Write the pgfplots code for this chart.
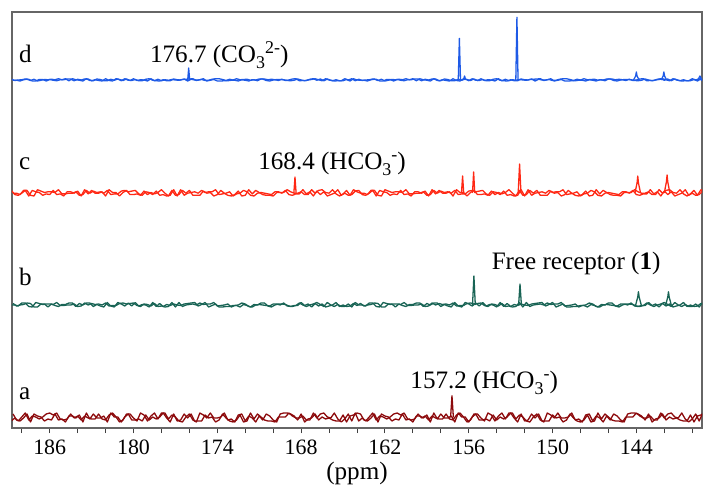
\documentclass[border=0pt]{standalone}
\usepackage{fontspec}
\setmainfont{Liberation Serif}
\usepackage{pgfplots}
\usepackage{pgfplotstable}
\pgfplotsset{compat=1.18}
\definecolor{specA}{RGB}{140,10,12}
\definecolor{specB}{RGB}{25,100,85}
\definecolor{specC}{RGB}{255,40,20}
\definecolor{specD}{RGB}{30,90,230}
\newcommand{\sbs}[1]{\raisebox{-3bp}{\fontsize{9}{10}\selectfont #1}}
\newcommand{\sps}[1]{\raisebox{4.5bp}{\fontsize{9}{10}\selectfont #1}}
\pgfplotstableread{
x a b c d
188.75 7 123 237.6 348.75
188.5 10 123 233.4 347.5
188.25 7 122 232.7 348
188 11 125 234.8 348.25
187.75 15 125 237.6 349
187.5 8 121.5 232 348.75
187.25 12 121 237.6 347
187 11 125.5 236.2 347
186.75 9 124.5 235.5 348.5
186.5 11 123.5 232.7 348.5
186.25 14 124 234.1 347
186 15 124 233.4 348.5
185.75 13 123.5 237.6 347.75
185.5 15 125.5 233.4 347.25
185.25 9 122.5 234.1 348.25
185 8 122.5 232 348.25
184.75 9 123 236.2 349
184.5 14 123 236.2 349
184.25 10 124 234.8 347.25
184 12 121.5 236.9 348.75
183.75 8 122 232 348
183.5 12 125 238.3 349
183.25 10 123 234.1 349
183 9 124.5 237.6 347.25
182.75 9 123.5 234.8 348.25
182.5 14 124 234.8 347.5
182.25 9 123 236.2 347
182 8 125 232 349.25
181.75 13 122 238.3 347.5
181.5 15 122.5 235.5 347
181.25 11 122.5 235.5 349.25
181 6 124.5 232 348.5
180.75 8 125 235.5 347.5
180.5 14 124 237.6 349
180.25 14 124.5 233.4 347.5
180 10 125 233.4 349.25
179.75 7 122.5 234.1 347.5
179.5 15 121.5 232.7 348.25
179.25 13 124 236.9 348
179 7 123.5 233.4 347
178.75 12 122 235.5 349.25
178.5 15 124.5 234.1 347.25
178.25 9 121.5 235.5 348.75
178 15 122 238.3 347.25
177.75 15 121 234.8 348.25
177.5 9 121.5 232 347.75
177.25 13 125.5 237.6 348.5
177 11 121 232.7 348
176.75 7 125.5 233.4 347.75
176.5 6 121.5 237.6 348.5
176.25 11 123 234.8 348.75
176 14 123.5 237.6 349
175.75 8 124 232.7 349.25
175.5 6 123 232.7 347.5
175.25 15 125 232.7 348.25
175 13 123.5 236.9 349.25
174.75 10 124 234.8 347
174.5 15 124 235.5 347.75
174.25 10 125.5 232 348.5
174 10 122 233.4 347
173.75 11 122.5 237.6 347
173.5 15 123 234.8 347.25
173.25 8 124 232.7 347.25
173 9 121 232 347.75
172.75 6 122.5 233.4 347.75
172.5 13 123 236.9 347
172.25 14 125 232 348.25
172 7 124 232.7 347.75
171.75 12 121.5 238.3 347
171.5 10 121 234.1 348.25
171.25 6 123 237.6 348
171 12 123.5 235.5 349
170.75 8 123 233.4 349
170.5 14 122.5 232.7 347.5
170.25 12 122 232.7 347
170 8 124 232 348
169.75 6 124 235.5 348.5
169.5 14 123 235.5 348.5
169.25 15 125 235.5 348.25
169 15 122 238.3 347.5
168.75 14 121.5 236.2 347.25
168.5 12 122.5 234.8 347.75
168.25 8 122.5 234.8 349
168 14 125.5 236.2 348
167.75 6 122.5 233.4 347.25
167.5 9 124 233.4 348
167.25 10 121 238.3 348.5
167 14 124.5 234.8 349.25
166.75 8 122 237.6 348.25
166.5 11 124 238.3 347.25
166.25 9 121 235.5 349.25
166 10 122 234.8 348
165.75 8 123 238.3 347.25
165.5 7 125.5 234.1 348.25
165.25 7 121.5 232 347.25
165 13 123 234.1 347.25
164.75 6 121.5 237.6 348.5
164.5 12 122 232.7 347
164.25 13 124.5 238.3 349.25
164 15 122.5 236.2 348
163.75 14 124.5 234.8 347.75
163.5 8 122 234.8 347.75
163.25 7 123 233.4 347
163 10 123.5 237.6 348.25
162.75 14 125 237.6 348.75
162.5 6 124.5 232.7 347.5
162.25 14 121 232 348.75
162 12 121 238.3 347
161.75 11 124 236.9 347.75
161.5 7 124 235.5 348.5
161.25 9 121 236.2 348.25
161 8 124 236.2 348.75
160.75 14 122.5 235.5 348.25
160.5 8 121.5 238.3 349.25
160.25 9 123.5 234.1 348.25
160 6 123.5 234.1 349.25
159.75 12 125 234.8 347.25
159.5 12 125 234.8 349.25
159.25 10 121.5 236.2 348.25
159 13 124.5 232.7 347.75
158.75 6 123 233.4 347
158.5 15 125 237.6 349.25
158.25 9 125 234.8 347.5
158 14 121.5 236.9 347.25
157.75 10 123.5 235.5 349
157.5 10 122 236.2 348.5
157.25 12 121 234.8 347.25
157 6 125.5 237.6 347.25
156.75 15 122 233.4 348.75
156.5 11 121 234.1 347.75
156.25 11 125.5 234.1 349
156 6 124 236.9 347.25
155.75 11 122 237.6 349.25
155.5 14 125 236.2 347.75
155.25 8 122 236.9 347.5
155 8 125.5 237.6 348.5
154.75 9 122 234.1 347.25
154.5 7 123.5 232.7 347.25
154.25 13 123 236.2 348.75
154 8 121 235.5 349.25
153.75 11 125.5 233.4 347.75
153.5 9 121.5 236.9 347.25
153.25 11 124.5 232.7 347
153 15 121.5 233.4 348.25
152.75 10 123.5 232 347.25
152.5 6 122.5 232.7 347.25
152.25 14 124 238.3 349
152 7 123 232 348.25
151.75 8 122.5 238.3 348
151.5 14 124 232.7 349
151.25 10 124.5 234.8 347
151 14 125 235.5 348.75
150.75 7 125.5 236.2 348
150.5 7 122 234.8 348
150.25 7 123.5 237.6 348.5
150 13 125.5 235.5 347.5
149.75 10 121 236.2 347.75
149.5 11 122.5 236.2 348.75
149.25 6 124 238.3 349.25
149 8 121 233.4 349.25
148.75 14 121 234.1 348.5
148.5 10 121.5 234.8 347.5
148.25 7 121.5 236.2 348.75
148 6 122.5 232 348
147.75 8 122.5 234.1 349.25
147.5 13 121 234.8 348.25
147.25 6 123.5 237.6 348.5
147 7 122.5 236.2 348.75
146.75 15 121 232.7 347.75
146.5 9 123.5 232 348.25
146.25 14 123 234.8 347.25
146 11 125 235.5 349
145.75 8 125 234.8 349
145.5 7 122 234.1 348.25
145.25 7 121 233.4 348.75
145 6 123 236.2 348.25
144.75 11 124 236.2 347.5
144.5 11 124 234.8 348.75
144.25 11 123.5 237.6 347.5
144 15 122 233.4 348
143.75 12 121.5 232.7 349
143.5 10 122.5 234.1 349.25
143.25 10 125 234.1 347.25
143 12 123 238.3 347.5
142.75 8 121.5 234.1 347.5
142.5 8 123 236.2 348.75
142.25 15 124 232 349.25
142 10 125.5 236.9 347.75
141.75 14 123.5 233.4 349
141.5 15 121.5 236.2 347.25
141.25 11 125.5 232 349
141 10 123 233.4 347.75
140.75 15 121.5 234.8 347
140.5 9 123.5 238.3 347.25
140.25 6 121.5 232.7 347.25
140 9 121.5 234.8 349.25
139.75 14 124 232.7 348
139.5 7 121 233.4 349.25
139.25 15 125.5 236.9 347.25
}\noise
\pgfplotstableread{
x a b c d
188.625 14 124.5 234.8 347.75
188.375 8 122 234.8 347.75
188.125 7 123 233.4 347
187.875 10 123.5 237.6 348.25
187.625 14 125 237.6 348.75
187.375 6 124.5 232.7 347.5
187.125 14 121 232 348.75
186.875 12 121 238.3 347
186.625 11 124 236.9 347.75
186.375 7 124 235.5 348.5
186.125 9 121 236.2 348.25
185.875 8 124 236.2 348.75
185.625 14 122.5 235.5 348.25
185.375 8 121.5 238.3 349.25
185.125 9 123.5 234.1 348.25
184.875 6 123.5 234.1 349.25
184.625 12 125 234.8 347.25
184.375 12 125 234.8 349.25
184.125 10 121.5 236.2 348.25
183.875 13 124.5 232.7 347.75
183.625 6 123 233.4 347
183.375 15 125 237.6 349.25
183.125 9 125 234.8 347.5
182.875 14 121.5 236.9 347.25
182.625 10 123.5 235.5 349
182.375 10 122 236.2 348.5
182.125 12 121 234.8 347.25
181.875 6 125.5 237.6 347.25
181.625 15 122 233.4 348.75
181.375 11 121 234.1 347.75
181.125 11 125.5 234.1 349
180.875 6 124 236.9 347.25
180.625 11 122 237.6 349.25
180.375 14 125 236.2 347.75
180.125 8 122 236.9 347.5
179.875 8 125.5 237.6 348.5
179.625 9 122 234.1 347.25
179.375 7 123.5 232.7 347.25
179.125 13 123 236.2 348.75
178.875 8 121 235.5 349.25
178.625 11 125.5 233.4 347.75
178.375 9 121.5 236.9 347.25
178.125 11 124.5 232.7 347
177.875 15 121.5 233.4 348.25
177.625 10 123.5 232 347.25
177.375 6 122.5 232.7 347.25
177.125 14 124 238.3 349
176.875 7 123 232 348.25
176.625 8 122.5 238.3 348
176.375 14 124 232.7 349
176.125 10 124.5 234.8 347
175.875 14 125 235.5 348.75
175.625 7 125.5 236.2 348
175.375 7 122 234.8 348
175.125 7 123.5 237.6 348.5
174.875 13 125.5 235.5 347.5
174.625 10 121 236.2 347.75
174.375 11 122.5 236.2 348.75
174.125 6 124 238.3 349.25
173.875 8 121 233.4 349.25
173.625 14 121 234.1 348.5
173.375 10 121.5 234.8 347.5
173.125 7 121.5 236.2 348.75
172.875 6 122.5 232 348
172.625 8 122.5 234.1 349.25
172.375 13 121 234.8 348.25
172.125 6 123.5 237.6 348.5
171.875 7 122.5 236.2 348.75
171.625 15 121 232.7 347.75
171.375 9 123.5 232 348.25
171.125 14 123 234.8 347.25
170.875 11 125 235.5 349
170.625 8 125 234.8 349
170.375 7 122 234.1 348.25
170.125 7 121 233.4 348.75
169.875 6 123 236.2 348.25
169.625 11 124 236.2 347.5
169.375 11 124 234.8 348.75
169.125 11 123.5 237.6 347.5
168.875 15 122 233.4 348
168.625 12 121.5 232.7 349
168.375 10 122.5 234.1 349.25
168.125 10 125 234.1 347.25
167.875 12 123 238.3 347.5
167.625 8 121.5 234.1 347.5
167.375 8 123 236.2 348.75
167.125 15 124 232 349.25
166.875 10 125.5 236.9 347.75
166.625 14 123.5 233.4 349
166.375 15 121.5 236.2 347.25
166.125 11 125.5 232 349
165.875 10 123 233.4 347.75
165.625 15 121.5 234.8 347
165.375 9 123.5 238.3 347.25
165.125 6 121.5 232.7 347.25
164.875 9 121.5 234.8 349.25
164.625 14 124 232.7 348
164.375 7 121 233.4 349.25
164.125 15 125.5 236.9 347.25
163.875 7 123 237.6 348.75
163.625 10 123 233.4 347.5
163.375 7 122 232.7 348
163.125 11 125 234.8 348.25
162.875 15 125 237.6 349
162.625 8 121.5 232 348.75
162.375 12 121 237.6 347
162.125 11 125.5 236.2 347
161.875 9 124.5 235.5 348.5
161.625 11 123.5 232.7 348.5
161.375 14 124 234.1 347
161.125 15 124 233.4 348.5
160.875 13 123.5 237.6 347.75
160.625 15 125.5 233.4 347.25
160.375 9 122.5 234.1 348.25
160.125 8 122.5 232 348.25
159.875 9 123 236.2 349
159.625 14 123 236.2 349
159.375 10 124 234.8 347.25
159.125 12 121.5 236.9 348.75
158.875 8 122 232 348
158.625 12 125 238.3 349
158.375 10 123 234.1 349
158.125 9 124.5 237.6 347.25
157.875 9 123.5 234.8 348.25
157.625 14 124 234.8 347.5
157.375 9 123 236.2 347
157.125 8 125 232 349.25
156.875 13 122 238.3 347.5
156.625 15 122.5 235.5 347
156.375 11 122.5 235.5 349.25
156.125 6 124.5 232 348.5
155.875 8 125 235.5 347.5
155.625 14 124 237.6 349
155.375 14 124.5 233.4 347.5
155.125 10 125 233.4 349.25
154.875 7 122.5 234.1 347.5
154.625 15 121.5 232.7 348.25
154.375 13 124 236.9 348
154.125 7 123.5 233.4 347
153.875 12 122 235.5 349.25
153.625 15 124.5 234.1 347.25
153.375 9 121.5 235.5 348.75
153.125 15 122 238.3 347.25
152.875 15 121 234.8 348.25
152.625 9 121.5 232 347.75
152.375 13 125.5 237.6 348.5
152.125 11 121 232.7 348
151.875 7 125.5 233.4 347.75
151.625 6 121.5 237.6 348.5
151.375 11 123 234.8 348.75
151.125 14 123.5 237.6 349
150.875 8 124 232.7 349.25
150.625 6 123 232.7 347.5
150.375 15 125 232.7 348.25
150.125 13 123.5 236.9 349.25
149.875 10 124 234.8 347
149.625 15 124 235.5 347.75
149.375 10 125.5 232 348.5
149.125 10 122 233.4 347
148.875 11 122.5 237.6 347
148.625 15 123 234.8 347.25
148.375 8 124 232.7 347.25
148.125 9 121 232 347.75
147.875 6 122.5 233.4 347.75
147.625 13 123 236.9 347
147.375 14 125 232 348.25
147.125 7 124 232.7 347.75
146.875 12 121.5 238.3 347
146.625 10 121 234.1 348.25
146.375 6 123 237.6 348
146.125 12 123.5 235.5 349
145.875 8 123 233.4 349
145.625 14 122.5 232.7 347.5
145.375 12 122 232.7 347
145.125 8 124 232 348
144.875 6 124 235.5 348.5
144.625 14 123 235.5 348.5
144.375 15 125 235.5 348.25
144.125 15 122 238.3 347.5
143.875 14 121.5 236.2 347.25
143.625 12 122.5 234.8 347.75
143.375 8 122.5 234.8 349
143.125 14 125.5 236.2 348
142.875 6 122.5 233.4 347.25
142.625 9 124 233.4 348
142.375 10 121 238.3 348.5
142.125 14 124.5 234.8 349.25
141.875 8 122 237.6 348.25
141.625 11 124 238.3 347.25
141.375 9 121 235.5 349.25
141.125 10 122 234.8 348
140.875 8 123 238.3 347.25
140.625 7 125.5 234.1 348.25
140.375 7 121.5 232 347.25
140.125 13 123 234.1 347.25
139.875 6 121.5 237.6 348.5
139.625 12 122 232.7 347
139.375 13 124.5 238.3 349.25
139.125 15 122.5 236.2 348
}\noiseb
\begin{document}
\begin{tikzpicture}
\begin{axis}[
  at={(0,0)}, anchor=south west,
  scale only axis, width=345bp, height=208bp,
  xmin=139.3, xmax=188.7, x dir=reverse,
  ymin=0, ymax=416,
  xtick={144,150,...,186},
  minor xtick={140,142,...,188},
  xtick pos=bottom, ytick=\empty,
  tick align=outside,
  major tick length=2.5bp, minor tick length=2.5bp,
  axis line style={black!60, line width=0.9pt},
  every tick/.style={black!75, line width=0.5pt},
  xlabel={(ppm)},
  xlabel style={yshift=3bp},
  tick label style={font=\fontsize{11}{12}\selectfont},
  label style={font=\fontsize{12.6}{14}\selectfont},
  /pgf/number format/assume math mode=true,
  clip mode=individual,
  every axis plot/.append style={line width=0.65pt, line join=round},
]
% spectrum a
\addplot[specA] table[x=x,y=a] {\noise};
\addplot[specA] table[x=x,y=a] {\noiseb};
\addplot[specA] coordinates {(157.3,10.5) (157.2,32.3) (157.1,10.5)};
% spectrum b
\addplot[specB] table[x=x,y=b] {\noise};
\addplot[specB] table[x=x,y=b] {\noiseb};
\addplot[specB] coordinates {(155.73,123) (155.63,152) (155.53,123)};
\addplot[specB] coordinates {(152.43,123) (152.33,144) (152.23,123)};
\addplot[specB] coordinates {(144.05,123) (143.9,131) (143.85,136.3) (143.8,131) (143.65,123)};
\addplot[specB] coordinates {(141.9,123) (141.75,131) (141.7,136.3) (141.65,131) (141.5,123)};
% spectrum c
\addplot[specC] table[x=x,y=c] {\noise};
\addplot[specC] table[x=x,y=c] {\noiseb};
\addplot[specC] coordinates {(168.52,235) (168.44,251) (168.36,235)};
\addplot[specC] coordinates {(156.52,235) (156.44,252) (156.36,235)};
\addplot[specC] coordinates {(155.73,235) (155.65,256) (155.57,235)};
\addplot[specC] coordinates {(152.46,235) (152.36,264) (152.26,235)};
\addplot[specC] coordinates {(144.1,235) (143.95,245) (143.9,252) (143.85,245) (143.7,235)};
\addplot[specC] coordinates {(142.0,235) (141.85,246) (141.8,253) (141.75,246) (141.6,235)};
% spectrum d
\addplot[specD] table[x=x,y=d] {\noise};
\addplot[specD] table[x=x,y=d] {\noiseb};
\addplot[specD] coordinates {(176.12,348) (176.05,360) (175.98,348)};
\addplot[specD] coordinates {(156.75,348) (156.67,389.7) (156.59,348)};
\addplot[specD] coordinates {(156.38,348) (156.3,352) (156.22,348)};
\addplot[specD] coordinates {(152.63,348) (152.55,410.7) (152.47,348)};
\addplot[specD] coordinates {(144.2,348) (144.05,352) (144.0,356) (143.95,352) (143.8,348)};
\addplot[specD] coordinates {(142.23,348) (142.08,352) (142.03,356) (141.98,352) (141.83,348)};
\addplot[specD] coordinates {(139.6,348) (139.45,352) (139.3,348)};
% labels
\begin{scope}[every node/.style={font=\fontsize{12.6}{14}\selectfont, anchor=base west, inner sep=0pt}]
\node at (axis cs:188.22,365) {d};
\node at (axis cs:188.22,258) {c};
\node at (axis cs:188.22,142) {b};
\node at (axis cs:188.22,29) {a};
\node at (axis cs:178.84,365.7) {176.7 (CO\sbs{3}\sps{2-})};
\node at (axis cs:171.09,258) {168.4 (HCO\sbs{3}\sps{-})};
\node at (axis cs:154.38,158.7) {Free receptor (\textbf{1})};
\node at (axis cs:160.2,39.7) {157.2 (HCO\sbs{3}\sps{-})};
\end{scope}
\end{axis}
\pgfresetboundingbox
\path[use as bounding box] (-6bp,-31.5bp) rectangle (351bp,214bp);
\end{tikzpicture}
\end{document}
